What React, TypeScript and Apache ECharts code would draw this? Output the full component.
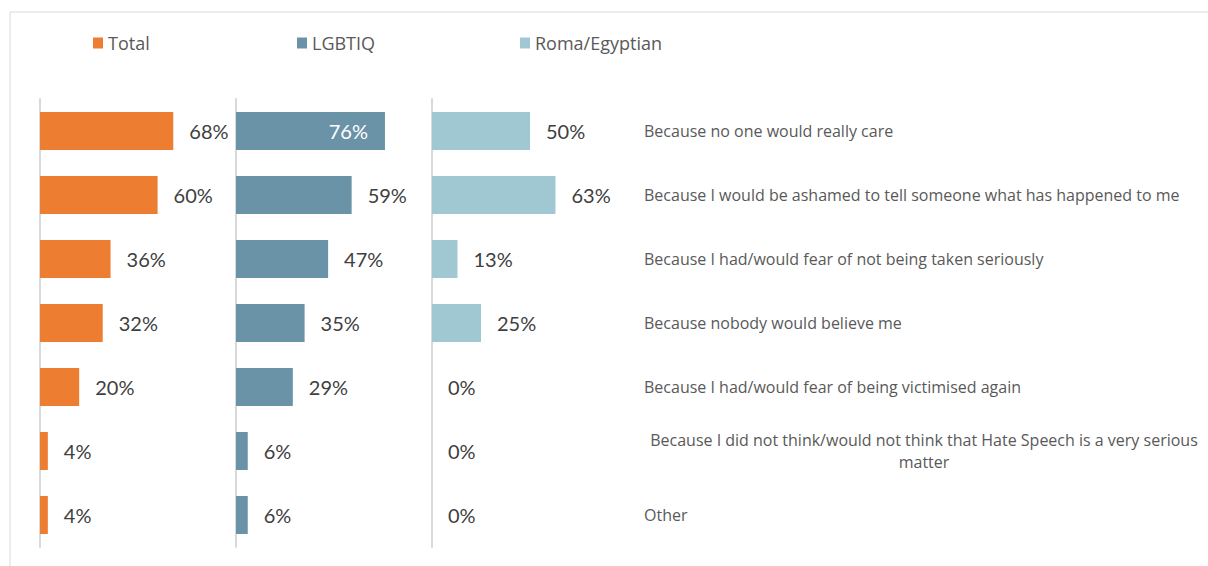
import React, { useEffect, useRef } from "react";
import * as echarts from "echarts";

const categories = [
  "Because no one would really care",
  "Because I would be ashamed to tell someone what has happened to me",
  "Because I had/would fear of not being taken seriously",
  "Because nobody would believe me",
  "Because I had/would fear of being victimised again",
  "Because I did not think/would not think that Hate Speech is a very serious matter",
  "Other",
];
const seriesNames = ["Total", "LGBTIQ", "Roma/Egyptian"];
const totalValues = [68, 60, 36, 32, 20, 4, 4];
const lgbtiqValues = [76, 59, 47, 35, 29, 6, 6];
const romaValues = [50, 63, 13, 25, 0, 0, 0];
const colors = ["#ED7D31", "#6A93A8", "#A0C8D3"];

const FONT = "Lato, 'Open Sans', sans-serif";
const CAT_FONT = "'Open Sans', Lato, sans-serif";

export default function App() {
  const ref = useRef<HTMLDivElement>(null);
  useEffect(() => {
    if (!ref.current) return;
    const chart = echarts.init(ref.current, null, { renderer: "svg" });
    const lefts = [40, 236, 432];
    const grids = lefts.map((l) => ({ left: l, width: 196, top: 99, height: 448 }));
    const xAxes = lefts.map((_, i) => ({
      type: "value",
      gridIndex: i,
      min: 0,
      max: 100,
      show: false,
    }));
    const yAxes: any[] = lefts.map((_, i) => ({
      type: "category",
      gridIndex: i,
      data: categories,
      inverse: true,
      axisLine: { show: true, lineStyle: { color: "#D9D9D9", width: 2 } },
      axisTick: { show: false },
      axisLabel: { show: false },
      splitLine: { show: false },
    }));
    yAxes.push({
      type: "category",
      gridIndex: 2,
      position: "right",
      data: categories,
      inverse: true,
      axisLine: { show: false },
      axisTick: { show: false },
      axisLabel: {
        show: true,
        margin: 16,
        color: "#595959",
        fontFamily: CAT_FONT,
        fontSize: 16,
        formatter: (v: string) => {
          if (v.length > 70) {
            const words = v.split(" ");
            const first = words.slice(0, -1).join(" ");
            const last = words[words.length - 1];
            return `{c|${first}}\n{c|${last}}`;
          }
          return v;
        },
        rich: {
          c: {
            width: 560,
            align: "center",
            color: "#595959",
            fontFamily: CAT_FONT,
            fontSize: 16,
            lineHeight: 22,
          },
        },
      },
    });
    const valueSets = [totalValues, lgbtiqValues, romaValues];
    const series = valueSets.map((vals, i) => ({
      type: "bar",
      name: seriesNames[i],
      xAxisIndex: i,
      yAxisIndex: i,
      barWidth: 38,
      itemStyle: { color: colors[i] },
      label: {
        show: true,
        position: "right",
        distance: 16,
        formatter: "{c}%",
        color: "#404040",
        fontFamily: FONT,
        fontSize: 20,
      },
      data: vals.map((v) =>
        i === 1 && v > 70
          ? {
              value: v,
              label: { position: "insideRight", distance: 17, color: "#FFFFFF" },
            }
          : v
      ),
    }));
    const legendLefts = [93, 297, 520];
    const legends = seriesNames.map((n, i) => ({
      top: 34,
      left: legendLefts[i],
      padding: 0,
      itemWidth: 10,
      itemHeight: 11,
      icon: "rect",
      textStyle: { color: "#595959", fontFamily: CAT_FONT, fontSize: 18, padding: [0, 0, 0, 0] },
      data: [n],
    }));
    chart.setOption({
      animation: false,
      legend: legends,
      graphic: [
        {
          type: "rect",
          shape: { x: 10, y: 12, width: 1300, height: 700 },
          style: { fill: "none", stroke: "#D9D9D9", lineWidth: 1 },
          silent: true,
        },
      ],
      grid: grids,
      xAxis: xAxes,
      yAxis: yAxes,
      series,
    });
    return () => chart.dispose();
  }, []);
  return (
    <div
      ref={ref}
      style={{ position: "absolute", left: 0, top: 0, width: 1208, height: 566, background: "#fff" }}
    />
  );
}
